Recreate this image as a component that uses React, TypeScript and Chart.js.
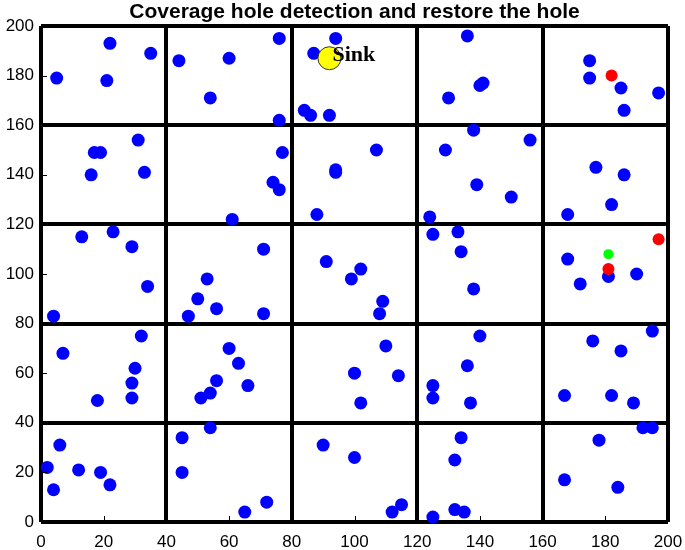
import React, { useEffect, useRef } from "react";
import { Chart, registerables } from "chart.js";

Chart.register(...registerables);

const titleText = "Coverage hole detection and restore the hole";
const tickValues = [0, 20, 40, 60, 80, 100, 120, 140, 160, 180, 200];

const nodesX = [
  5, 22, 35, 21, 44, 60, 76, 54, 76, 94, 87, 84, 86, 92, 136, 140, 141, 130, 175, 175, 185, 197, 186,
  31, 17, 19, 16, 33, 77, 74, 76, 61, 107, 94, 94, 88, 138, 156, 129, 139, 150, 124, 177, 186, 182, 168,
  13, 23, 29, 34, 4, 71, 53, 50, 56, 47, 71, 91, 102, 99, 109, 108, 125, 133, 134, 138, 168, 181, 190, 172,
  32, 7, 30, 29, 29, 18, 60, 63, 56, 66, 54, 51, 110, 100, 114, 102, 140, 136, 125, 125, 137, 195, 176, 185, 167, 182, 189,
  6, 2, 12, 19, 22, 4, 54, 45, 45, 72, 65, 90, 100, 115, 112, 134, 132, 132, 135, 125, 192, 195, 178, 167, 184,
];
const nodesY = [
  179, 193, 189, 178, 186, 187, 195, 171, 162, 195, 189, 166, 164, 164, 196, 176, 177, 171, 186, 179, 175, 173, 166,
  154, 149, 149, 140, 141, 149, 137, 134, 122, 150, 142, 141, 124, 158, 154, 150, 136, 131, 123, 143, 140, 128, 124,
  115, 117, 111, 95, 83, 110, 98, 90, 86, 83, 84, 105, 102, 98, 89, 84, 116, 117, 109, 94, 106, 99, 100, 96,
  75, 68, 62, 56, 50, 49, 70, 64, 57, 55, 52, 50, 71, 60, 59, 48, 75, 63, 55, 50, 48, 77, 73, 69, 51, 51, 48,
  31, 22, 21, 20, 15, 13, 38, 34, 20, 8, 4, 31, 26, 7, 4, 34, 25, 5, 4, 2, 38, 38, 33, 17, 14,
];
const holeX = [182, 197, 181];
const holeY = [180, 114, 102];
const restoreX = [181];
const restoreY = [108];
const sinkX = [92];
const sinkY = [187];
const sinkLabel = "Sink";

const toPoints = (xs: number[], ys: number[]) => xs.map((x, i) => ({ x, y: ys[i] }));

const overlayPlugin = {
  id: "overlay",
  afterDatasetsDraw(chart: any) {
    const { ctx, scales } = chart;
    const xs = scales.x;
    const ys = scales.y;
    const area = chart.chartArea;
    ctx.save();
    ctx.strokeStyle = "#000";
    ctx.lineWidth = 1;
    for (const v of tickValues) {
      if (v % 40 === 0) continue;
      const px = Math.round(xs.getPixelForValue(v)) + 0.5;
      ctx.beginPath();
      ctx.moveTo(px, area.bottom);
      ctx.lineTo(px, area.bottom - 6);
      ctx.stroke();
      const py = Math.round(ys.getPixelForValue(v)) + 0.5;
      ctx.beginPath();
      ctx.moveTo(area.left, py);
      ctx.lineTo(area.left + 6, py);
      ctx.stroke();
    }
    const sx = xs.getPixelForValue(sinkX[0]);
    const sy = ys.getPixelForValue(sinkY[0]);
    ctx.fillStyle = "#000";
    ctx.font = "bold 22px 'Liberation Serif', 'DejaVu Serif', serif";
    ctx.textAlign = "left";
    ctx.textBaseline = "alphabetic";
    ctx.fillText(sinkLabel, sx + 3, sy + 3);
    ctx.restore();
  },
};

export default function App() {
  const canvasRef = useRef<HTMLCanvasElement | null>(null);

  useEffect(() => {
    if (!canvasRef.current) return;
    const gridColor = (c: any) =>
      c.tick && c.tick.value % 40 === 0 ? "#000" : "rgba(0,0,0,0)";
    const tickFont = { family: "'Liberation Sans', Arial, sans-serif", size: 17 };
    const chart = new Chart(canvasRef.current, {
      type: "scatter",
      data: {
        datasets: [
          {
            label: "restore",
            data: toPoints(restoreX, restoreY),
            backgroundColor: "#00ff00",
            borderWidth: 0,
            pointRadius: 5,
            order: 1,
            clip: false,
          } as any,
          {
            label: "hole",
            data: toPoints(holeX, holeY),
            backgroundColor: "#ff0000",
            borderWidth: 0,
            pointRadius: 6,
            order: 2,
            clip: false,
          },
          {
            label: "sink",
            data: toPoints(sinkX, sinkY),
            backgroundColor: "#ffff00",
            borderColor: "#333",
            borderWidth: 1,
            pointRadius: 11.5,
            order: 3,
            clip: false,
          },
          {
            label: "nodes",
            data: toPoints(nodesX, nodesY),
            backgroundColor: "#0000ff",
            borderWidth: 0,
            pointRadius: 6.5,
            order: 4,
            clip: false,
          },
        ],
      },
      options: {
        animation: false,
        responsive: false,
        layout: { padding: { left: 0, right: 17, top: 0, bottom: 0 } },
        plugins: {
          legend: { display: false },
          tooltip: { enabled: false },
          title: {
            display: true,
            fullSize: false,
            text: titleText,
            color: "#000",
            font: { family: "'Liberation Sans', Arial, sans-serif", size: 21, weight: "bold", lineHeight: 1 },
            padding: { top: 2, bottom: 3 },
          },
        },
        scales: {
          x: {
            type: "linear",
            min: 0,
            max: 200,
            ticks: { stepSize: 20, color: "#000", font: tickFont, padding: 10, maxRotation: 0 },
            grid: { color: gridColor, lineWidth: 4, drawTicks: false },
            border: { display: false },
            afterFit: (s: any) => {
              s.height = 28;
              s.paddingLeft = 0;
              s.paddingRight = 0;
            },
          },
          y: {
            type: "linear",
            min: 0,
            max: 200,
            ticks: { stepSize: 20, color: "#000", font: tickFont, padding: 7 },
            grid: { color: gridColor, lineWidth: 4, drawTicks: false },
            border: { display: false },
            afterFit: (s: any) => {
              s.width = 41;
              s.paddingTop = 0;
              s.paddingBottom = 0;
            },
          },
        },
      },
      plugins: [overlayPlugin],
    });
    return () => chart.destroy();
  }, []);

  return (
    <div style={{ position: "absolute", left: 0, top: 0, width: 685, height: 550, background: "#fff" }}>
      <canvas ref={canvasRef} width={685} height={550} style={{ display: "block" }} />
    </div>
  );
}
